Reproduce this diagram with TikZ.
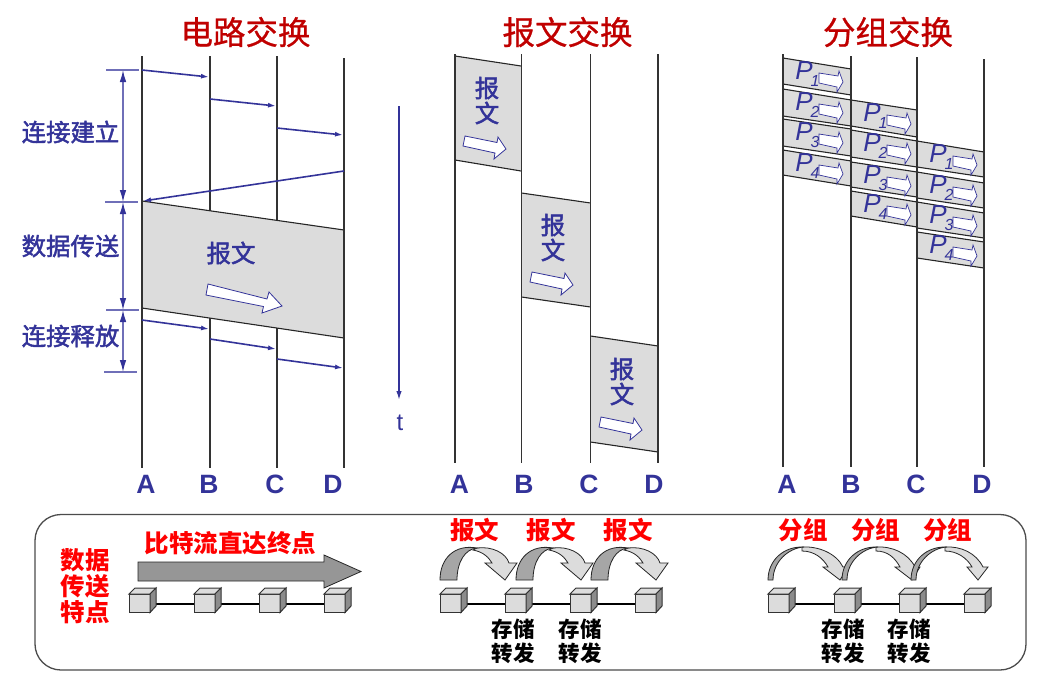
\documentclass[tikz,border=0pt]{standalone}
\usepackage{fontspec}
\usetikzlibrary{arrows.meta}
\setmainfont{Liberation Sans}
\newfontfamily\cjk{Noto Sans CJK SC}
\newcommand{\heavier}[2]{\special{pdf:code q 2 Tr #1 w}#2\special{pdf:code Q}}
\definecolor{navy}{HTML}{333399}
\definecolor{dimline}{HTML}{6F6FB8}
\definecolor{titlered}{HTML}{C00000}
\definecolor{lightgrey}{HTML}{DCDCDC}
\definecolor{midgrey}{HTML}{A6A6A6}
\definecolor{arrowgrey}{HTML}{969696}
\definecolor{sidegrey}{HTML}{8C8C8C}
\tikzset{
  lane/.style={draw=black!80,line width=1.2pt},
  msg/.style={draw=navy,line width=1.6pt,-{Latex[length=8pt,width=5pt]}},
  dimarrow/.style={draw=dimline,line width=1.2pt,{Latex[length=12pt,width=6.5pt,color=navy]}-{Latex[length=12pt,width=6.5pt,color=navy]}},
  tick/.style={draw=dimline,line width=1.2pt},
  packet/.style={fill=lightgrey},
  edge/.style={draw=black!85,line width=1.1pt},
  whitearrow/.style={draw=navy,fill=white,line width=.8pt},
  titletext/.style={text=titlered,font={\cjk\fontsize{32.5}{34}\selectfont},inner sep=0pt},
  bluetext/.style={text=navy,font={\cjk\fontsize{24.4}{26}\selectfont},inner sep=0pt},
  lanename/.style={text=navy,font={\fontsize{26.5}{28}\selectfont\bfseries},inner sep=0pt},
  redtext/.style={text=red,font={\cjk\fontsize{24.5}{26}\selectfont\bfseries},inner sep=0pt,align=center},
  blacktext/.style={text=black,font={\cjk\fontsize{21.5}{24}\selectfont\bfseries},inner sep=0pt,align=center},
  ptext/.style={text=navy,font={\fontsize{26}{28}\selectfont\itshape},inner sep=0pt},
  psub/.style={text=navy,font={\fontsize{16}{18}\selectfont\itshape},inner sep=0pt},
  link/.style={draw=black,line width=1.1pt},
}
\newcommand{\router}[2]{%
  \draw[black!80,line width=1pt,fill=lightgrey] (#1,594) rectangle (#1+21,612.5);
  \draw[black!80,line width=1pt,fill=lightgrey] (#1,594) -- (#1+6,588) -- (#1+27,588) -- (#1+21,594) -- cycle;
  \draw[black!80,line width=1pt,fill=sidegrey] (#1+21,594) -- (#1+27,588) -- (#1+27,606) -- (#1+21,612.5) -- cycle;
  \coordinate (#2l) at (#1,604);
  \coordinate (#2r) at (#1+24,604);
}
\newcommand{\fatarc}[1]{%
  \begin{scope}[xshift=#1pt]
  \draw[black!85,line width=.8pt,fill=lightgrey] (37,548) .. controls (52,546) and (66,553) .. (69,563) -- (77,563) -- (65,580) -- (45,563) -- (52,563) .. controls (49,558) and (44,552) .. (33,550) -- cycle;
  \draw[black!85,line width=.8pt,fill=midgrey] (0,580) .. controls (0,558) and (15,544) .. (37,548) .. controls (25,549) and (17,562) .. (17,580) -- cycle;
  \end{scope}}
\newcommand{\thinarc}[4]{%
  \begin{scope}[xshift=#1pt]
  \draw[black!85,line width=.8pt,fill=lightgrey] (34,547) .. controls (50,546) and (#4-12,553) .. (#4-5,567) -- (#4,567) -- (#3,580) -- (#2,567) -- (#2+5,567) .. controls (#2,558) and (46,551) .. (34,551) -- cycle;
  \draw[black!85,line width=.8pt,fill=midgrey] (0,580) .. controls (0,560) and (16,546) .. (36,547) .. controls (20,548) and (5,562) .. (5,580) -- cycle;
  \end{scope}}
\begin{document}
\begin{tikzpicture}[x=1pt,y=-1pt]
\useasboundingbox (0,0) rectangle (1056,673);
\fill[white] (0,0) rectangle (1056,673);

% ---------- titles
\node[titletext] (t1) at (245.5,32) {\heavier{.25}{电路交换}};
\node[titletext] (t2) at (567.5,32) {\heavier{.25}{报文交换}};
\node[titletext] (t3) at (888,32) {\heavier{.25}{分组交换}};

% ---------- circuit switching
\coordinate (cAt) at (142,56);  \coordinate (cAb) at (142,468);
\coordinate (cBt) at (210,56);  \coordinate (cBb) at (210,468);
\coordinate (cCt) at (277,56);  \coordinate (cCb) at (277,468);
\coordinate (cDt) at (344,58);  \coordinate (cDb) at (344,468);
\draw[lane] (cBt) -- (cBb);
\draw[lane] (cCt) -- (cCb);
\coordinate (g1) at (142,201); \coordinate (g2) at (344,230);
\coordinate (g3) at (344,338); \coordinate (g4) at (142,308);
\fill[packet] (g1) -- (g2) -- (g3) -- (g4) -- cycle;
\draw[edge] (g1) -- (g2);
\draw[edge] (g4) -- (g3);
\draw[lane] (cAt) -- (cAb);
\draw[lane] (cDt) -- (cDb);
\coordinate (m1a) at (142,70);  \coordinate (m1b) at (209,77);
\coordinate (m2a) at (210,99);  \coordinate (m2b) at (276,106);
\coordinate (m3a) at (277,128); \coordinate (m3b) at (343,135);
\coordinate (m4a) at (344,171); \coordinate (m4b) at (143,201);
\coordinate (m5a) at (142,320); \coordinate (m5b) at (209,329);
\coordinate (m6a) at (210,339); \coordinate (m6b) at (276,349);
\coordinate (m7a) at (277,359); \coordinate (m7b) at (343,368);
\foreach \i in {1,...,7} {\draw[msg] (m\i a) -- (m\i b);}

\coordinate (d1) at (123,70); \coordinate (d2) at (123,202);
\coordinate (d3) at (123,310); \coordinate (d4) at (123,372);
\draw[dimarrow] (d1) -- (d2);
\draw[dimarrow] (d2) -- (d3);
\draw[dimarrow] (d3) -- (d4);
\draw[tick] (106,70) -- (139,70);
\draw[tick] (105,202) -- (138,202);
\draw[tick] (106,310) -- (139,310);
\draw[tick] (104,372) -- (137,372);
\node[bluetext] (l1) at (70.5,132) {\heavier{.45}{连接建立}};
\node[bluetext] (l2) at (70.5,246) {\heavier{.45}{数据传送}};
\node[bluetext] (l3) at (70.5,336) {\heavier{.45}{连接释放}};
\node[bluetext] (cmsg) at (231,253) {\heavier{.45}{报文}};
\draw[whitearrow] (208,284) -- (267,299) -- (269,292) -- (282,306) -- (262,313) -- (263.5,306.5) -- (206,295) -- cycle;

\coordinate (tt) at (399,106); \coordinate (tb) at (399,400);
\draw[draw=navy,line width=1.5pt,-{Latex[length=9pt,width=5.5pt]}] (tt) -- (tb);
\node[text=navy,font=\fontsize{24}{26}\selectfont,inner sep=0pt] (tlabel) at (400,423) {t};

\node[lanename] (cA) at (146,484) {A};
\node[lanename] (cB) at (209,484) {B};
\node[lanename] (cC) at (275,484) {C};
\node[lanename] (cD) at (333,484) {D};

% ---------- message switching
\fill[packet] (455,56) -- (521,66) -- (521,171) -- (455,160) -- cycle;
\fill[packet] (521.5,193) -- (590.5,203) -- (590.5,307) -- (521.5,297) -- cycle;
\fill[packet] (590.5,336) -- (658,346) -- (658,452) -- (590.5,442) -- cycle;
\draw[edge] (455,56) -- (521,66);   \draw[edge] (455,160) -- (521,171);
\draw[edge] (521.5,193) -- (590.5,203); \draw[edge] (521.5,297) -- (590.5,307);
\draw[edge] (590.5,336) -- (658,346); \draw[edge] (590.5,442) -- (658,452);
\coordinate (mAt) at (455,54);   \coordinate (mAb) at (455,463);
\coordinate (mBt) at (521.5,54); \coordinate (mBb) at (521.5,463);
\coordinate (mCt) at (590.5,54); \coordinate (mCb) at (590.5,463);
\coordinate (mDt) at (658,54);   \coordinate (mDb) at (658,463);
\foreach \k in {A,B,C,D} {\draw[lane] (m\k t) -- (m\k b);}
\foreach \n/\x/\y in {1/487/88,2/553/225,3/622/369} {
  \node[bluetext] (ma\n) at (\x,\y) {\heavier{.45}{报}};
  \node[bluetext] (mb\n) at (\x,\y+25) {\heavier{.45}{文}};
}
\foreach \dx/\dy in {0/0,67/136,136/281} {
  \begin{scope}[xshift=\dx pt,yshift=-\dy pt]
  \draw[whitearrow] (465,136) -- (497,142.5) -- (498,137) -- (506,149) -- (494,159) -- (495,153) -- (463,146) -- cycle;
  \end{scope}
}
\node[lanename] (mA) at (459.5,484) {A};
\node[lanename] (mB) at (524,484) {B};
\node[lanename] (mC) at (589,484) {C};
\node[lanename] (mD) at (654,484) {D};

% ---------- packet switching
\foreach \col/\xl/\xr/\n/\tl/\tr/\bl/\br in {
  1/783/851/1/58/69/84/95, 1/783/851/2/89/100/116/126, 1/783/851/3/119/129/146/156, 1/783/851/4/150/161/175/186,
  2/851/917/1/100/110/126/137, 2/851/917/2/130/141/157/167, 2/851/917/3/162/172/187/197, 2/851/917/4/191/202/216/227,
  3/917/984/1/141/152/167/177, 3/917/984/2/172/183/198/208, 3/917/984/3/202/213/228/238, 3/917/984/4/232/242/258/268} {
  \fill[packet] (\xl,\tl) -- (\xr,\tr) -- (\xr,\br) -- (\xl,\bl) -- cycle;
  \draw[edge] (\xl,\tl) -- (\xr,\tr);
  \draw[edge] (\xl,\bl) -- (\xr,\br);
  \node[ptext] (p\col\n) at (\xl+21,\tl+13) {P};
  \node[psub] (s\col\n) at (\xl+32,\tl+23) {\n};
  \begin{scope}[xshift=\xl pt,yshift=-\tl pt]
  \draw[whitearrow,line width=.7pt] (36,15) -- (55,18) -- (56,13) -- (60,24) -- (54,34) -- (54,29) -- (36,25) -- cycle;
  \end{scope}
}
\coordinate (pAt) at (783,54);  \coordinate (pAb) at (783,467);
\coordinate (pBt) at (851,56);  \coordinate (pBb) at (851,467);
\coordinate (pCt) at (917,57);  \coordinate (pCb) at (917,467);
\coordinate (pDt) at (984,59);  \coordinate (pDb) at (984,467);
\foreach \k in {A,B,C,D} {\draw[lane] (p\k t) -- (p\k b);}
\node[lanename] (pA) at (787,484) {A};
\node[lanename] (pB) at (851,484) {B};
\node[lanename] (pC) at (916,484) {C};
\node[lanename] (pD) at (982,484) {D};

% ---------- bottom panel
\draw[draw=black!70,line width=1.3pt,rounded corners=26pt] (35,514.5) rectangle (1026,670);
\node[redtext] (feature) at (85,586.5) {数据\\传送\\特点};
\node[redtext] (bitflow) at (230.5,543) {比特流直达终点};
\draw[black!85,line width=.8pt,fill=arrowgrey] (138,562) -- (324,562) -- (324,555) -- (361,571.5) -- (324,588) -- (324,581) -- (138,581) -- cycle;

\foreach \k/\a/\b/\c/\d in {x/129/194/259/324, y/440/505/570/635, z/768/834/899/964} {
  \draw[link] (\a+24,604) -- (\b,604);
  \draw[link] (\b+24,604) -- (\c,604);
  \draw[link] (\c+24,604) -- (\d,604);
  \router{\a}{\k a} \router{\b}{\k b} \router{\c}{\k c} \router{\d}{\k d}
}

\fatarc{440} \fatarc{516} \fatarc{591}
\thinarc{768}{55}{72}{80}
\thinarc{842}{53}{70}{78}
\thinarc{911}{56}{67}{77}

\node[redtext] (ry1) at (474.5,530) {报文};
\node[redtext] (ry2) at (551,530) {报文};
\node[redtext] (ry3) at (628,530) {报文};
\node[redtext] (rz1) at (803,530) {分组};
\node[redtext] (rz2) at (875.5,530) {分组};
\node[redtext] (rz3) at (947.5,530) {分组};
\node[blacktext] (sf1) at (513,641) {存储\\转发};
\node[blacktext] (sf2) at (580,641) {存储\\转发};
\node[blacktext] (sf3) at (843,641) {存储\\转发};
\node[blacktext] (sf4) at (909,641) {存储\\转发};
\end{tikzpicture}
\end{document}
